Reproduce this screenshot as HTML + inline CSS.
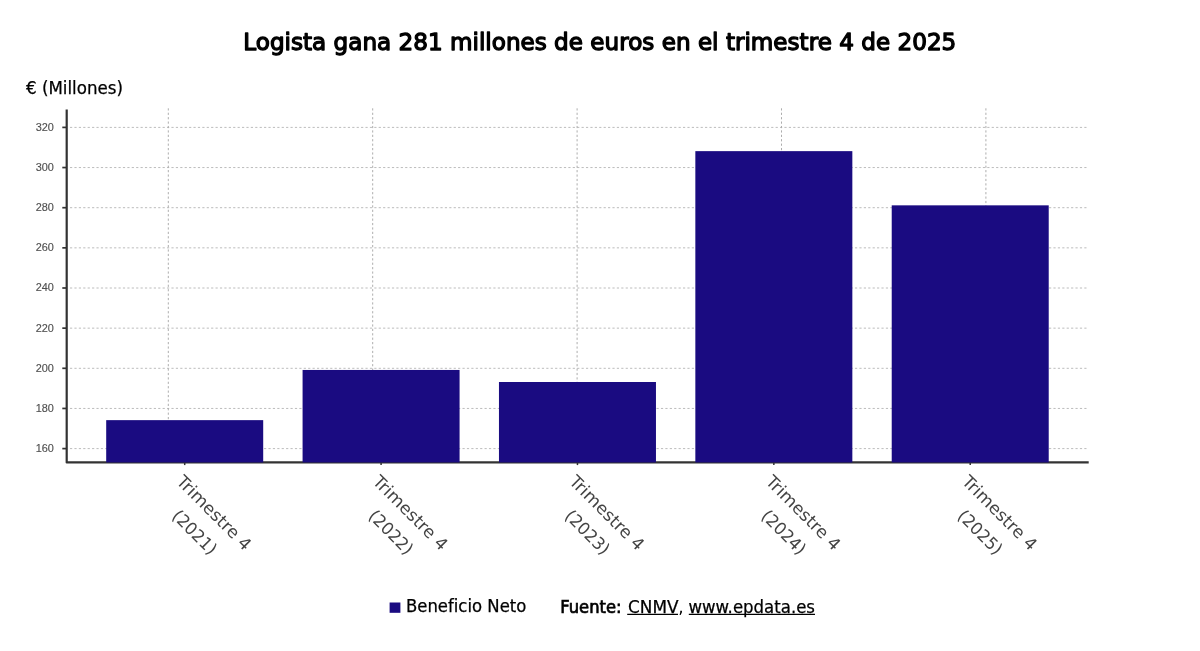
<!DOCTYPE html>
<html lang="es"><head><meta charset="utf-8"><title>Logista gana 281 millones de euros en el trimestre 4 de 2025</title>
<style>
html,body{margin:0;padding:0;background:#fff;}
svg{display:block}
.lg{font-family:"DejaVu Sans","Liberation Sans",sans-serif;}
.ar{font-family:"Liberation Sans",sans-serif;}
</style></head><body>
<svg width="1200" height="651" viewBox="0 0 1200 651">
<rect width="1200" height="651" fill="#fff"/>
<text class="lg" x="243.3" y="49.5" font-size="23.3" fill="#000" stroke="#000" stroke-width="1.3" stroke-linejoin="round" textLength="713" lengthAdjust="spacingAndGlyphs">Logista gana 281 millones de euros en el trimestre 4 de 2025</text>
<text class="lg" x="26" y="94.3" font-size="17" fill="#000" stroke="#000" stroke-width="0.25" textLength="97" lengthAdjust="spacingAndGlyphs">€ (Millones)</text>
<g stroke="#bcbcbc" stroke-width="1" stroke-dasharray="2.2,2.21" fill="none">
<line x1="70" y1="127.40" x2="1088.4" y2="127.40"/>
<line x1="70" y1="167.55" x2="1088.4" y2="167.55"/>
<line x1="70" y1="207.70" x2="1088.4" y2="207.70"/>
<line x1="70" y1="247.85" x2="1088.4" y2="247.85"/>
<line x1="70" y1="288.00" x2="1088.4" y2="288.00"/>
<line x1="70" y1="328.15" x2="1088.4" y2="328.15"/>
<line x1="70" y1="368.30" x2="1088.4" y2="368.30"/>
<line x1="70" y1="408.45" x2="1088.4" y2="408.45"/>
<line x1="70" y1="448.60" x2="1088.4" y2="448.60"/>
<line x1="168.3" y1="108.3" x2="168.3" y2="461.4" stroke="#adadad"/>
<line x1="372.7" y1="108.3" x2="372.7" y2="461.4" stroke="#adadad"/>
<line x1="577.1" y1="108.3" x2="577.1" y2="461.4" stroke="#adadad"/>
<line x1="781.5" y1="108.3" x2="781.5" y2="461.4" stroke="#adadad"/>
<line x1="985.9" y1="108.3" x2="985.9" y2="461.4" stroke="#adadad"/>
</g>
<g stroke="#333" stroke-width="2.2" fill="none" stroke-linejoin="round">
<path d="M66.7 109.5 V462.45 H1088.7"/>
<line x1="62.3" y1="127.40" x2="66" y2="127.40" stroke-width="1.7"/>
<line x1="62.3" y1="167.55" x2="66" y2="167.55" stroke-width="1.7"/>
<line x1="62.3" y1="207.70" x2="66" y2="207.70" stroke-width="1.7"/>
<line x1="62.3" y1="247.85" x2="66" y2="247.85" stroke-width="1.7"/>
<line x1="62.3" y1="288.00" x2="66" y2="288.00" stroke-width="1.7"/>
<line x1="62.3" y1="328.15" x2="66" y2="328.15" stroke-width="1.7"/>
<line x1="62.3" y1="368.30" x2="66" y2="368.30" stroke-width="1.7"/>
<line x1="62.3" y1="408.45" x2="66" y2="408.45" stroke-width="1.7"/>
<line x1="62.3" y1="448.60" x2="66" y2="448.60" stroke-width="1.7"/>
<line x1="184.70" y1="462.4" x2="184.70" y2="465.1" stroke-width="1.5"/>
<line x1="381.08" y1="462.4" x2="381.08" y2="465.1" stroke-width="1.5"/>
<line x1="577.46" y1="462.4" x2="577.46" y2="465.1" stroke-width="1.5"/>
<line x1="773.84" y1="462.4" x2="773.84" y2="465.1" stroke-width="1.5"/>
<line x1="970.22" y1="462.4" x2="970.22" y2="465.1" stroke-width="1.5"/>
</g>
<rect x="106.20" y="420.14" width="157" height="42.31" fill="#1a0b81"/>
<rect x="302.58" y="369.96" width="157" height="92.49" fill="#1a0b81"/>
<rect x="498.96" y="382.00" width="157" height="80.45" fill="#1a0b81"/>
<rect x="695.34" y="151.14" width="157" height="311.31" fill="#1a0b81"/>
<rect x="891.72" y="205.34" width="157" height="257.11" fill="#1a0b81"/>
<g class="ar" font-size="10.9" fill="#505050" stroke="#505050" stroke-width="0.15" text-anchor="end">
<text x="53.9" y="131.20">320</text>
<text x="53.9" y="171.26">300</text>
<text x="53.9" y="211.32">280</text>
<text x="53.9" y="251.38">260</text>
<text x="53.9" y="291.44">240</text>
<text x="53.9" y="331.50">220</text>
<text x="53.9" y="371.56">200</text>
<text x="53.9" y="411.62">180</text>
<text x="53.9" y="451.68">160</text>
</g>
<g class="lg" font-size="17" fill="#444" text-anchor="middle">
<g transform="translate(176.60,478) rotate(45)"><text x="51.2" y="4" textLength="97.5" lengthAdjust="spacingAndGlyphs">Trimestre 4</text><text x="51.2" y="31.5" textLength="55" lengthAdjust="spacingAndGlyphs">(2021)</text></g>
<g transform="translate(372.98,478) rotate(45)"><text x="51.2" y="4" textLength="97.5" lengthAdjust="spacingAndGlyphs">Trimestre 4</text><text x="51.2" y="31.5" textLength="55" lengthAdjust="spacingAndGlyphs">(2022)</text></g>
<g transform="translate(569.36,478) rotate(45)"><text x="51.2" y="4" textLength="97.5" lengthAdjust="spacingAndGlyphs">Trimestre 4</text><text x="51.2" y="31.5" textLength="55" lengthAdjust="spacingAndGlyphs">(2023)</text></g>
<g transform="translate(765.74,478) rotate(45)"><text x="51.2" y="4" textLength="97.5" lengthAdjust="spacingAndGlyphs">Trimestre 4</text><text x="51.2" y="31.5" textLength="55" lengthAdjust="spacingAndGlyphs">(2024)</text></g>
<g transform="translate(962.12,478) rotate(45)"><text x="51.2" y="4" textLength="97.5" lengthAdjust="spacingAndGlyphs">Trimestre 4</text><text x="51.2" y="31.5" textLength="55" lengthAdjust="spacingAndGlyphs">(2025)</text></g>
</g>
<rect x="389.6" y="602.5" width="10.8" height="10.3" fill="#1a0b81"/>
<text class="lg" x="406" y="611.7" font-size="16.8" fill="#000" stroke="#000" stroke-width="0.25" textLength="120.3" lengthAdjust="spacingAndGlyphs">Beneficio Neto</text>
<g class="lg" font-size="16.8" fill="#000">
<text x="560.2" y="612.5" stroke="#000" stroke-width="0.7" textLength="61.3" lengthAdjust="spacingAndGlyphs">Fuente:</text>
<text x="628" y="612.6" stroke="#000" stroke-width="0.25" textLength="50.5" lengthAdjust="spacingAndGlyphs">CNMV</text>
<text x="678.2" y="612.6">,</text>
<text x="688.5" y="612.6" stroke="#000" stroke-width="0.25" textLength="126.5" lengthAdjust="spacingAndGlyphs">www.epdata.es</text>
</g>
<g stroke="#000" stroke-width="1.3"><line x1="627.2" y1="614.3" x2="678" y2="614.3"/><line x1="688.8" y1="614.3" x2="815" y2="614.3"/></g>
</svg>
</body></html>
